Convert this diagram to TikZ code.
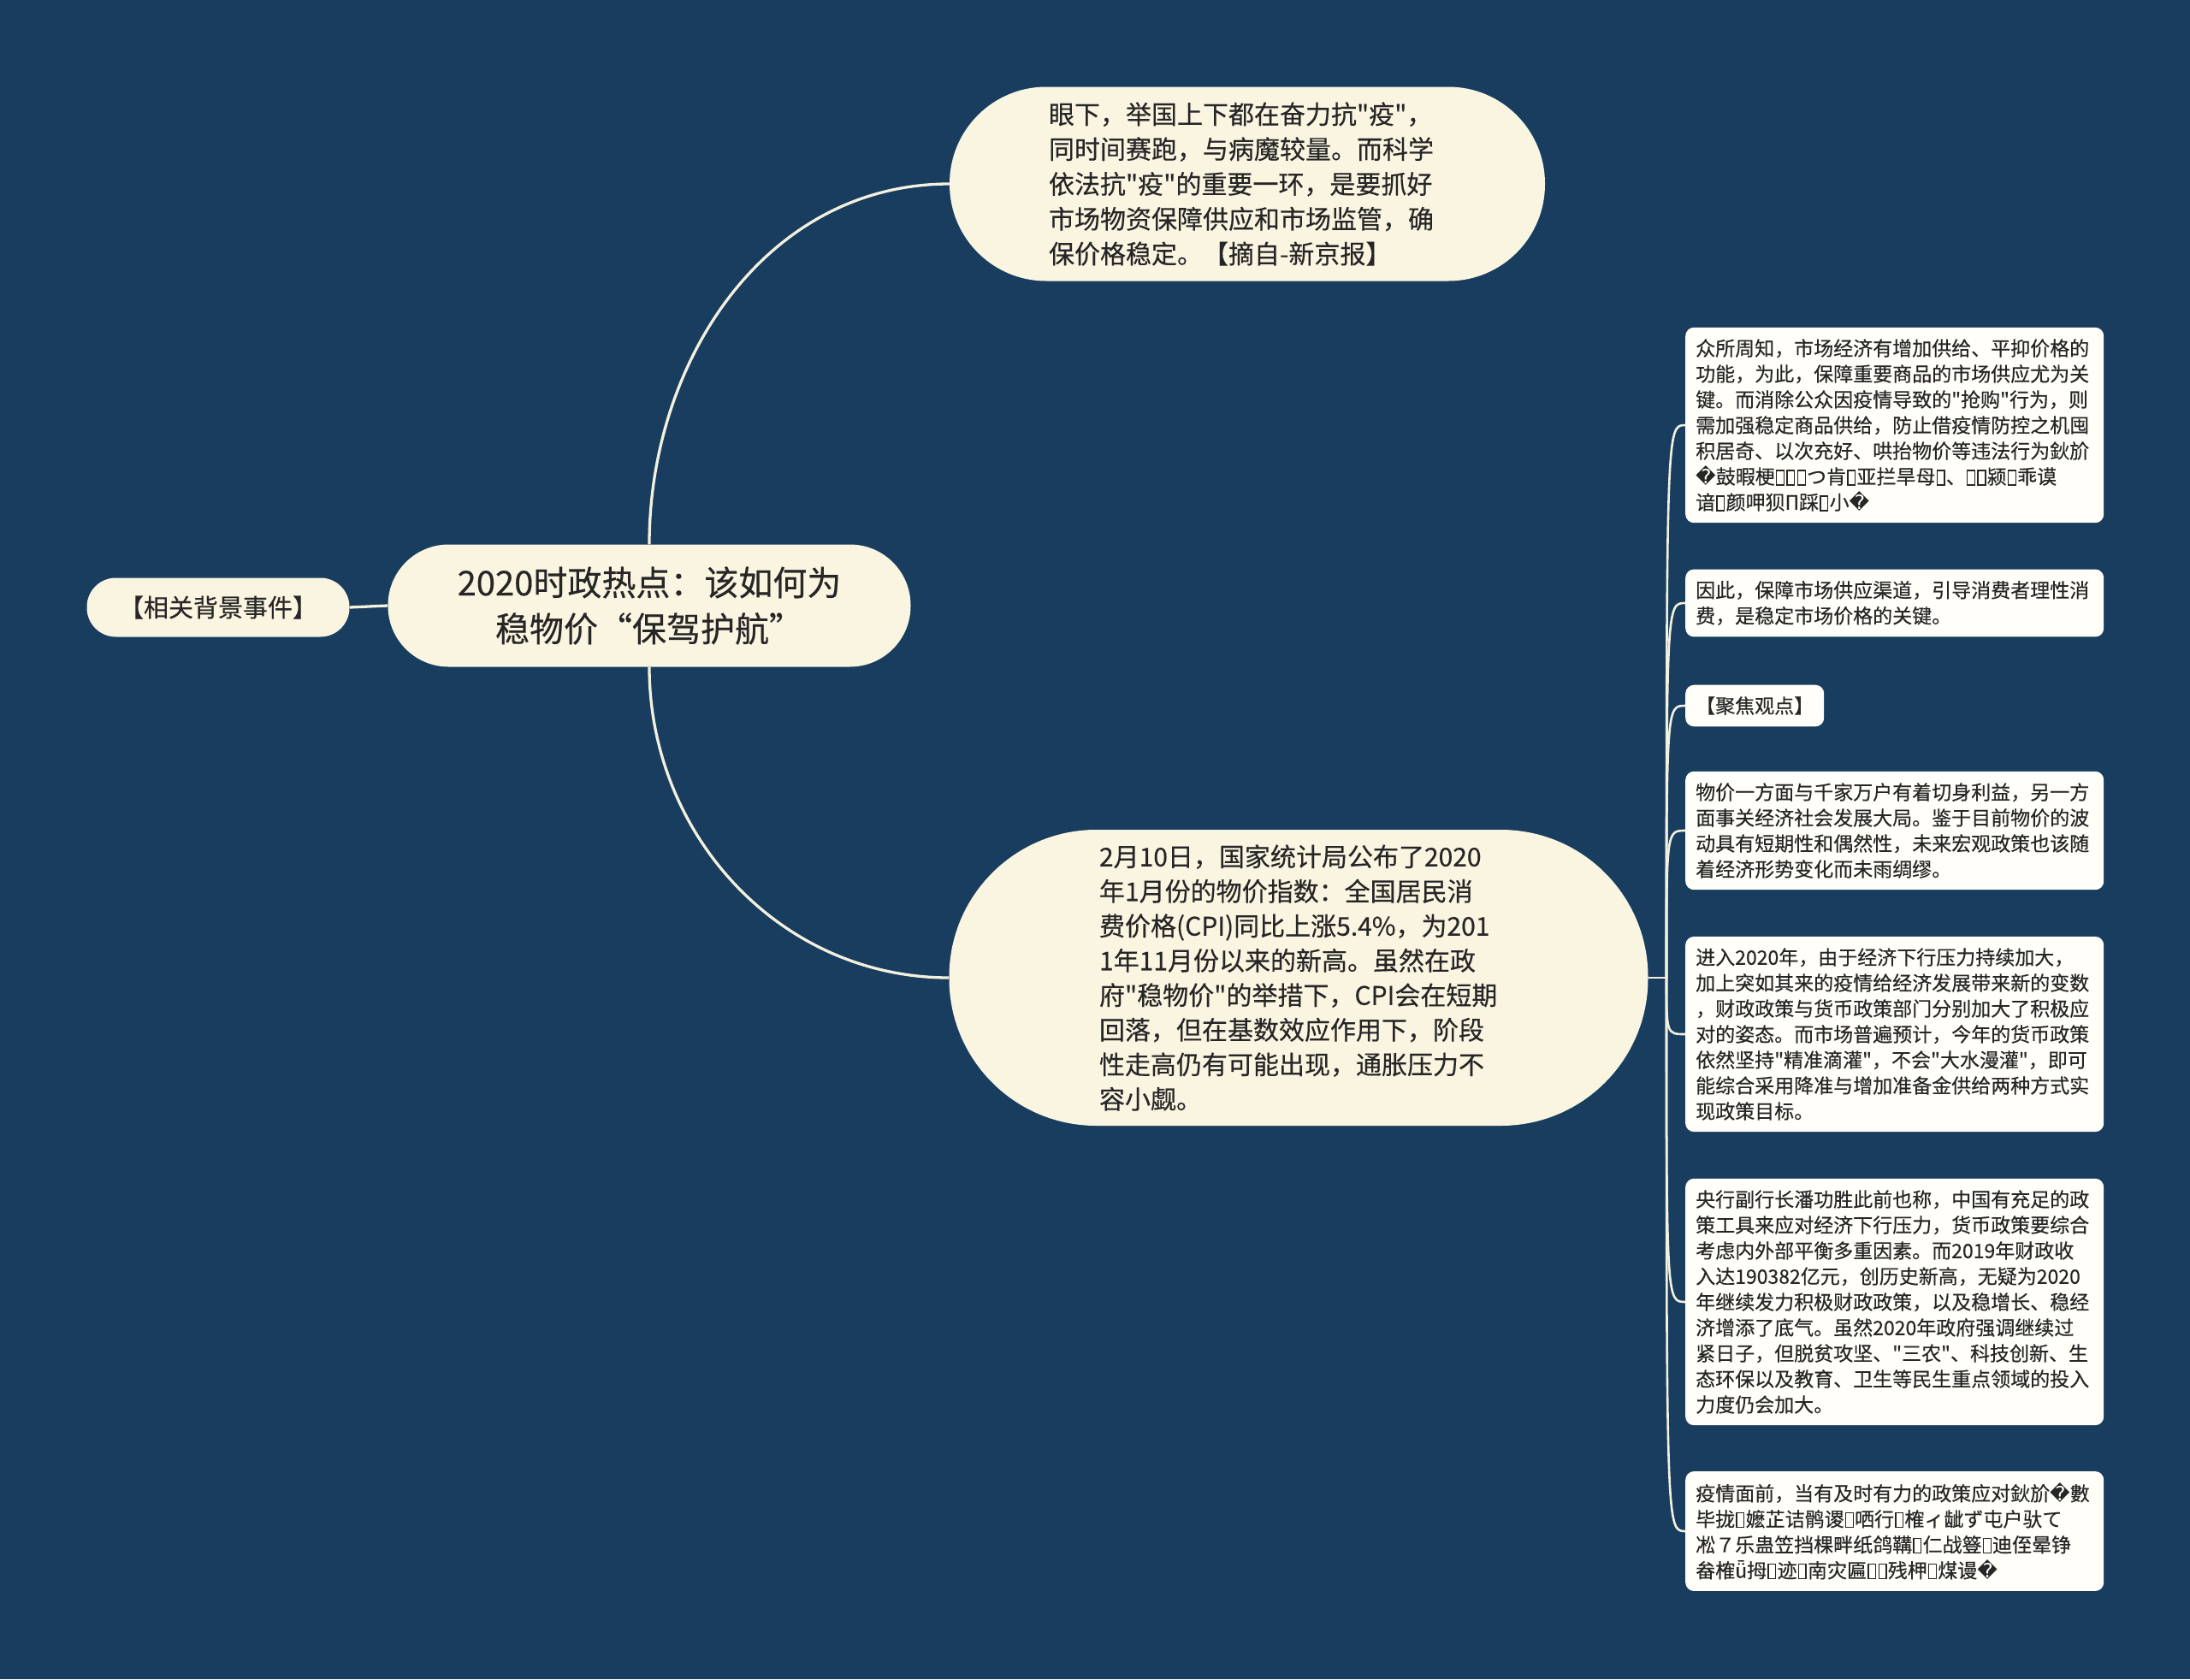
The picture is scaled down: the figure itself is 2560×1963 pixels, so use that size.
\documentclass[tikz,border=0pt]{standalone}
\usepackage{fontspec}
\setmainfont{Noto Sans CJK SC}[Ligatures=TeXOff, FakeBold=0.35]
\newfontfamily\dejavu{DejaVu Sans}
\newcommand\rp{{\dejavu ^^^^fffd}}
\newcommand\tofu{\kern.05em\lower.08em\hbox{\vrule width .06em\vbox{\hrule height .06em\hbox to .32em{\vrule height .68em width 0pt\hfil}\hrule height .06em}\vrule width .06em}\kern.05em}
\definecolor{bg}{HTML}{183D5E}
\definecolor{cream}{HTML}{FAF5E1}
\definecolor{paper}{HTML}{FFFEF8}
\definecolor{ink}{HTML}{262626}
\definecolor{wire}{HTML}{F4F0DE}
\tikzset{
  pill/.style={fill=cream, text=ink, inner sep=0pt},
  leaf/.style={fill=paper, text=ink, rounded corners=10pt, anchor=west, align=left,
    inner xsep=12pt, inner ysep=13.5pt, font=\fontsize{23}{30}\selectfont},
  wideleaf/.style={leaf, text width=465pt},
  conn/.style={draw=wire, line width=3.3pt},
  conn2/.style={draw=wire, line width=2.6pt},
}
\begin{document}
\begin{tikzpicture}[x=1pt,y=1pt]
\useasboundingbox (0,0) rectangle (2560,-1963);
\fill[bg] (0,0) rectangle (2560,-1963);

\node[pill, rounded corners=34pt, minimum width=307pt, minimum height=69pt,
  font=\fontsize{29}{36}\selectfont] (left) at (255,-710) {【相关背景事件】};

\node[pill, rounded corners=71pt, minimum width=611pt, minimum height=143pt,
  align=center, font=\fontsize{40}{54}\selectfont] (root) at (759,-708)
  {2020时政热点：该如何为\\稳物价“保驾护航”};

\node[pill, rounded corners=113pt, minimum width=696pt, minimum height=227pt,
  align=left, text width=464pt, font=\fontsize{30}{40.8}\selectfont] (top) at (1458,-215)
  {眼下，举国上下都在奋力抗"疫"，\\同时间赛跑，与病魔较量。而科学\\依法抗"疫"的重要一环，是要抓好\\市场物资保障供应和市场监管，确\\保价格稳定。【摘自-新京报】};

\node[pill, rounded corners=172pt, minimum width=817pt, minimum height=346pt,
  align=left, text width=466pt, font=\fontsize{30}{40.5}\selectfont] (cpi) at (1518,-1143)
  {2月10日，国家统计局公布了2020\\年1月份的物价指数：全国居民消\\费价格(CPI)同比上涨5.4\%，为201\\1年11月份以来的新高。虽然在政\\府"稳物价"的举措下，CPI会在短期\\回落，但在基数效应作用下，阶段\\性走高仍有可能出现，通胀压力不\\容小觑。};

\node[wideleaf] (b1) at (1970,-497)
  {众所周知，市场经济有增加供给、平抑价格的\\功能，为此，保障重要商品的市场供应尤为关\\键。而消除公众因疫情导致的"抢购"行为，则\\需加强稳定商品供给，防止借疫情防控之机囤\\积居奇、以次充好、哄抬物价等违法行为鈥斺\\\rp 鼓暇梗\tofu\tofu\tofu つ肯\tofu 亚拦旱母\tofu 、\tofu\tofu 颍\tofu 乖谟\\谙\tofu 颜呷狈Π踩\tofu 小\rp};
\node[wideleaf] (b2) at (1970,-705)
  {因此，保障市场供应渠道，引导消费者理性消\\费，是稳定市场价格的关键。};
\node[leaf] (b3) at (1970,-825) {【聚焦观点】};
\node[wideleaf] (b4) at (1970,-971)
  {物价一方面与千家万户有着切身利益，另一方\\面事关经济社会发展大局。鉴于目前物价的波\\动具有短期性和偶然性，未来宏观政策也该随\\着经济形势变化而未雨绸缪。};
\node[wideleaf] (b5) at (1970,-1209)
  {进入2020年，由于经济下行压力持续加大，\\加上突如其来的疫情给经济发展带来新的变数\\，财政政策与货币政策部门分别加大了积极应\\对的姿态。而市场普遍预计，今年的货币政策\\依然坚持"精准滴灌"，不会"大水漫灌"，即可\\能综合采用降准与增加准备金供给两种方式实\\现政策目标。};
\node[wideleaf] (b6) at (1970,-1522)
  {央行副行长潘功胜此前也称，中国有充足的政\\策工具来应对经济下行压力，货币政策要综合\\考虑内外部平衡多重因素。而2019年财政收\\入达190382亿元，创历史新高，无疑为2020\\年继续发力积极财政政策，以及稳增长、稳经\\济增添了底气。虽然2020年政府强调继续过\\紧日子，但脱贫攻坚、"三农"、科技创新、生\\态环保以及教育、卫生等民生重点领域的投入\\力度仍会加大。};
\node[wideleaf] (b7) at (1970,-1790)
  {疫情面前，当有及时有力的政策应对鈥斺\rp 數\\毕拢\tofu 嬷芷诘鹘谡\tofu 哂行\tofu 榷ィ龇ず屯户驮て\\凇７乐蛊笠挡棵畔纸鸽鞲\tofu 仁战簦\tofu 迪侄晕铮\\畚榷ǖ拇\tofu 迹\tofu 南灾匾\tofu\tofu 残柙\tofu 煤谩\rp};

\draw[conn] (left.east) -- (root.west);
\draw[conn] (root.north) to[out=90,in=180] (top.west);
\draw[conn] (root.south) to[out=-90,in=180] (cpi.west);

\coordinate (hub) at (1948,-1143);
\draw[conn2] (cpi.east) -- (hub);
\foreach \b in {b1,b2,b3,b4,b5,b6,b7}{
  \draw[conn2] (hub) .. controls (hub |- \b.west) .. (\b.west);
}
\end{tikzpicture}
\end{document}
